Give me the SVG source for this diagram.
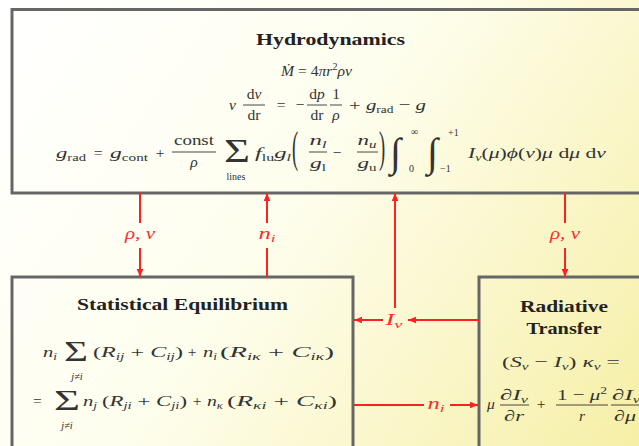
<svg xmlns="http://www.w3.org/2000/svg" width="639" height="446" viewBox="0 0 639 446">
<defs>
<linearGradient id="bg" x1="0" y1="0" x2="639" y2="446" gradientUnits="userSpaceOnUse">
<stop offset="0" stop-color="#ffffff"/>
<stop offset="0.45" stop-color="#fefeee"/>
<stop offset="1" stop-color="#f6efa6"/>
</linearGradient>
<marker id="ah" viewBox="0 -4 8 8" refX="8" refY="0" markerWidth="8" markerHeight="8" markerUnits="userSpaceOnUse" orient="auto"><path d="M0,-3.3 L8,0 L0,3.3 z" fill="#ff2020"/></marker>
<style>
.box{fill:none;stroke:#666;stroke-width:3}
.cn line{stroke:#ff2020;stroke-width:2;fill:none}
.tt{font-family:"Liberation Serif","DejaVu Serif",serif;font-weight:bold;font-size:17px;fill:#222}
.m{font-family:"Liberation Serif","DejaVu Serif",serif;font-size:15.5px;fill:#333}
.it{font-style:italic}
.sb{font-size:10px}
.lb{font-family:"Liberation Serif","DejaVu Serif",serif;font-size:16px;font-style:italic;fill:#ff2a2a;text-anchor:middle}
.bar{stroke:#333;stroke-width:0.9}
.mid{text-anchor:middle}
</style>
</defs>
<rect x="0" y="0" width="639" height="446" fill="url(#bg)"/>

<g id="hydro">
<rect class="box" x="12" y="9.5" width="640" height="183.5"/>
<text class="tt mid" x="330.5" y="45" textLength="149" lengthAdjust="spacingAndGlyphs">Hydrodynamics</text>
<text class="m" x="281" y="76" textLength="71" lengthAdjust="spacingAndGlyphs"><tspan class="it">Ṁ</tspan> = 4<tspan class="it">πr</tspan><tspan class="sb" dy="-6">2</tspan><tspan class="it" dy="6">ρv</tspan></text>
<text class="m it" x="229" y="110">v</text>
<text class="m mid" x="254" y="99">d<tspan class="it">v</tspan></text>
<line class="bar" x1="243" y1="105" x2="265" y2="105"/>
<text class="m mid" x="254" y="120">dr</text>
<text class="m mid" x="281" y="110">=</text>
<text class="m mid" x="300" y="110">−</text>
<text class="m mid" x="317" y="99">d<tspan class="it">p</tspan></text>
<line class="bar" x1="307" y1="105" x2="327" y2="105"/>
<text class="m mid" x="317" y="120">dr</text>
<text class="m mid" x="336" y="99">1</text>
<line class="bar" x1="330" y1="105" x2="342" y2="105"/>
<text class="m mid it" x="336" y="120">ρ</text>
<text class="m" x="349" y="110" textLength="77" lengthAdjust="spacingAndGlyphs">+ <tspan class="it">g</tspan><tspan class="sb" dy="3">rad</tspan><tspan dy="-3"> − </tspan><tspan class="it">g</tspan></text>

<text class="m" x="56" y="158" textLength="30" lengthAdjust="spacingAndGlyphs"><tspan class="it">g</tspan><tspan class="sb" dy="3">rad</tspan></text>
<text class="m mid" x="98" y="158">=</text>
<text class="m" x="110" y="158" textLength="38" lengthAdjust="spacingAndGlyphs"><tspan class="it">g</tspan><tspan class="sb" dy="3">cont</tspan></text>
<text class="m mid" x="160" y="158">+</text>
<text class="m mid" x="194" y="145" textLength="40" lengthAdjust="spacingAndGlyphs">const</text>
<line class="bar" x1="172" y1="152" x2="216" y2="152"/>
<text class="m mid it" x="194" y="167">ρ</text>
<text class="m mid" style="font-size:34px" x="237" y="162" textLength="26" lengthAdjust="spacingAndGlyphs">Σ</text>
<text class="m mid" style="font-size:10px" x="236" y="180">lines</text>
<text class="m" x="255" y="158" textLength="36" lengthAdjust="spacingAndGlyphs"><tspan class="it">f</tspan><tspan class="sb" dy="3">lu</tspan><tspan class="it" dy="-3">g</tspan><tspan class="sb it" dy="3">l</tspan></text>
<text class="m" style="font-size:44px" transform="translate(292,162) scale(0.42,1)">(</text>
<text class="m mid" x="318" y="145" textLength="17" lengthAdjust="spacingAndGlyphs"><tspan class="it">n</tspan><tspan class="sb it" dy="3">l</tspan></text>
<line class="bar" x1="309" y1="152" x2="327" y2="152"/>
<text class="m mid" x="318" y="168" textLength="16" lengthAdjust="spacingAndGlyphs"><tspan class="it">g</tspan><tspan class="sb" dy="3">l</tspan></text>
<text class="m mid" x="337" y="158">−</text>
<text class="m mid" x="367" y="145" textLength="19" lengthAdjust="spacingAndGlyphs"><tspan class="it">n</tspan><tspan class="sb it" dy="3">u</tspan></text>
<line class="bar" x1="357" y1="152" x2="378" y2="152"/>
<text class="m mid" x="367" y="168" textLength="19" lengthAdjust="spacingAndGlyphs"><tspan class="it">g</tspan><tspan class="sb" dy="3">u</tspan></text>
<text class="m" style="font-size:44px" transform="translate(379,162) scale(0.42,1)">)</text>
<text class="m" style="font-size:40px" x="390" y="166">∫</text>
<text class="m" style="font-size:10px" x="411" y="135">∞</text>
<text class="m" style="font-size:10px" x="409" y="172">0</text>
<text class="m" style="font-size:40px" x="427" y="166">∫</text>
<text class="m" style="font-size:10px" x="448" y="136">+1</text>
<text class="m" style="font-size:10px" x="440" y="172">−1</text>
<text class="m" x="468" y="158" textLength="138" lengthAdjust="spacingAndGlyphs"><tspan class="it">I</tspan><tspan class="sb it" dy="3">ν</tspan><tspan dy="-3">(</tspan><tspan class="it">μ</tspan>)<tspan class="it">ϕ</tspan>(<tspan class="it">ν</tspan>)<tspan class="it">μ</tspan> d<tspan class="it">μ</tspan> d<tspan class="it">ν</tspan></text>
</g>

<g id="stateq">
<rect class="box" x="12" y="277" width="341" height="200"/>
<text class="tt mid" x="182.5" y="310" textLength="211" lengthAdjust="spacingAndGlyphs">Statistical Equilibrium</text>
<text class="m" x="43" y="357" textLength="14" lengthAdjust="spacingAndGlyphs"><tspan class="it">n</tspan><tspan class="sb it" dy="3">i</tspan></text>
<text class="m mid" style="font-size:30px" x="76" y="361" textLength="24" lengthAdjust="spacingAndGlyphs">Σ</text>
<text class="m mid it" style="font-size:10.5px" x="77" y="380">j≠i</text>
<text class="m" x="93" y="357" textLength="90" lengthAdjust="spacingAndGlyphs">(<tspan class="it">R</tspan><tspan class="sb it" dy="3">ij</tspan><tspan dy="-3"> + </tspan><tspan class="it">C</tspan><tspan class="sb it" dy="3">ij</tspan><tspan dy="-3">)</tspan></text>
<text class="m mid" x="192" y="357">+</text>
<text class="m" x="203" y="357" textLength="14" lengthAdjust="spacingAndGlyphs"><tspan class="it">n</tspan><tspan class="sb it" dy="3">i</tspan></text>
<text class="m" x="220" y="357" textLength="114" lengthAdjust="spacingAndGlyphs">(<tspan class="it">R</tspan><tspan class="sb it" dy="3">iκ</tspan><tspan dy="-3"> + </tspan><tspan class="it">C</tspan><tspan class="sb it" dy="3">iκ</tspan><tspan dy="-3">)</tspan></text>
<text class="m" x="33" y="406">=</text>
<text class="m mid" style="font-size:30px" x="67" y="410" textLength="26" lengthAdjust="spacingAndGlyphs">Σ</text>
<text class="m mid it" style="font-size:10.5px" x="67" y="429">j≠i</text>
<text class="m" x="83" y="406" textLength="14" lengthAdjust="spacingAndGlyphs"><tspan class="it">n</tspan><tspan class="sb it" dy="3">j</tspan></text>
<text class="m" x="102" y="406" textLength="85" lengthAdjust="spacingAndGlyphs">(<tspan class="it">R</tspan><tspan class="sb it" dy="3">ji</tspan><tspan dy="-3"> + </tspan><tspan class="it">C</tspan><tspan class="sb it" dy="3">ji</tspan><tspan dy="-3">)</tspan></text>
<text class="m mid" x="197" y="406">+</text>
<text class="m" x="207" y="406" textLength="16" lengthAdjust="spacingAndGlyphs"><tspan class="it">n</tspan><tspan class="sb it" dy="3">κ</tspan></text>
<text class="m" x="227" y="406" textLength="110" lengthAdjust="spacingAndGlyphs">(<tspan class="it">R</tspan><tspan class="sb it" dy="3">κi</tspan><tspan dy="-3"> + </tspan><tspan class="it">C</tspan><tspan class="sb it" dy="3">κi</tspan><tspan dy="-3">)</tspan></text>
</g>

<g id="radtr">
<rect class="box" x="479" y="277" width="200" height="200"/>
<text class="tt mid" x="564" y="312" textLength="88" lengthAdjust="spacingAndGlyphs">Radiative</text>
<text class="tt mid" x="564" y="334" textLength="75" lengthAdjust="spacingAndGlyphs">Transfer</text>
<text class="m" x="502" y="367" textLength="118" lengthAdjust="spacingAndGlyphs">(<tspan class="it">S</tspan><tspan class="sb it" dy="3">ν</tspan><tspan dy="-3"> − </tspan><tspan class="it">I</tspan><tspan class="sb it" dy="3">ν</tspan><tspan dy="-3">) </tspan><tspan class="it">κ</tspan><tspan class="sb it" dy="3">ν</tspan><tspan dy="-3"> =</tspan></text>
<text class="m it" x="487" y="409">μ</text>
<text class="m mid" x="514" y="400" textLength="28" lengthAdjust="spacingAndGlyphs">∂<tspan class="it">I</tspan><tspan class="sb it" dy="3">ν</tspan></text>
<line class="bar" x1="500" y1="405" x2="529" y2="405"/>
<text class="m mid" x="514" y="421" textLength="20" lengthAdjust="spacingAndGlyphs">∂<tspan class="it">r</tspan></text>
<text class="m mid" x="541" y="409">+</text>
<text class="m mid" x="582" y="400" textLength="50" lengthAdjust="spacingAndGlyphs">1 − <tspan class="it">μ</tspan><tspan class="sb" dy="-6">2</tspan></text>
<line class="bar" x1="556" y1="405" x2="608" y2="405"/>
<text class="m mid it" x="582" y="421">r</text>
<text class="m" x="612" y="400" textLength="28" lengthAdjust="spacingAndGlyphs">∂<tspan class="it">I</tspan><tspan class="sb it" dy="3">ν</tspan></text>
<line class="bar" x1="611" y1="405" x2="645" y2="405"/>
<text class="m" x="614" y="421" textLength="22" lengthAdjust="spacingAndGlyphs">∂<tspan class="it">μ</tspan></text>
</g>

<g id="connectors" class="cn">
<line x1="140" y1="193" x2="140" y2="223"/>
<line x1="140" y1="248" x2="140" y2="277" marker-end="url(#ah)"/>
<text class="lb" x="140" y="239" textLength="30" lengthAdjust="spacingAndGlyphs">ρ, v</text>
<line x1="267" y1="277" x2="267" y2="248"/>
<line x1="267" y1="223" x2="267" y2="193" marker-end="url(#ah)"/>
<text class="lb" x="267" y="239" textLength="17" lengthAdjust="spacingAndGlyphs">n<tspan style="font-size:11px" dy="3">i</tspan></text>
<line x1="565" y1="193" x2="565" y2="223"/>
<line x1="565" y1="248" x2="565" y2="277" marker-end="url(#ah)"/>
<text class="lb" x="565" y="239" textLength="30" lengthAdjust="spacingAndGlyphs">ρ, v</text>
<line x1="395" y1="308" x2="395" y2="193" marker-end="url(#ah)"/>
<line x1="479" y1="320" x2="408" y2="320" marker-end="url(#ah)"/>
<line x1="383" y1="320" x2="354" y2="320" marker-end="url(#ah)"/>
<text class="lb" x="394" y="325" textLength="17" lengthAdjust="spacingAndGlyphs">I<tspan style="font-size:11px" dy="3">ν</tspan></text>
<line x1="354" y1="405" x2="424" y2="405"/>
<line x1="450" y1="405" x2="478" y2="405" marker-end="url(#ah)"/>
<text class="lb" x="436" y="409" textLength="17" lengthAdjust="spacingAndGlyphs">n<tspan style="font-size:11px" dy="3">i</tspan></text>
</g>
</svg>
